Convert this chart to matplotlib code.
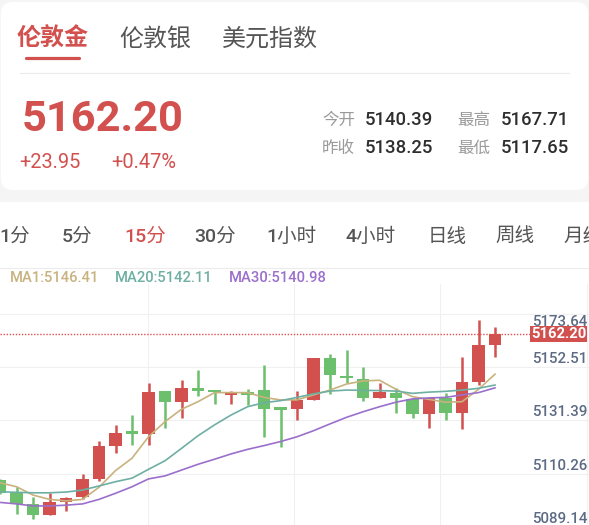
import matplotlib
matplotlib.use('Agg')
import matplotlib.pyplot as plt
from matplotlib.patches import FancyBboxPatch, Rectangle

# ---------------- data ----------------
tabs = ['伦敦金', '伦敦银', '美元指数']
price_text = '5162.20'
change_text = '+23.95'
pct_text = '+0.47%'
stat_labels = ['今开', '最高', '昨收', '最低']
stat_values = ['5140.39', '5167.71', '5138.25', '5117.65']
intervals = ['1分', '5分', '15分', '30分', '1小时', '4小时', '日线', '周线', '月线']
legend_texts = ['MA1:5146.41', 'MA20:5142.11', 'MA30:5140.98']

opens = [5104.47, 5099.44, 5094.97, 5090.61, 5095.88, 5097.62, 5104.87, 5118.06, 5123.37, 5122.70,
         5139.74, 5135.26, 5140.81, 5140.13, 5138.27, 5139.22, 5140.13, 5133.12, 5132.48, 5136.17,
         5152.69, 5145.80, 5144.49, 5137.08, 5139.06, 5136.57, 5130.50, 5137.08, 5130.90, 5143.18,
         5157.96]
closes = [5099.44, 5094.97, 5090.61, 5095.64, 5097.22, 5104.87, 5117.95, 5122.98, 5123.10, 5139.46,
          5135.26, 5140.81, 5139.74, 5139.34, 5139.22, 5138.15, 5132.72, 5132.33, 5136.17, 5152.69,
          5146.07, 5144.77, 5137.08, 5139.22, 5136.84, 5130.50, 5136.84, 5131.14, 5143.18, 5157.96,
          5162.20]
highs = [5105.00, 5101.82, 5097.62, 5099.20, 5097.86, 5106.85, 5120.05, 5126.15, 5130.23, 5143.02,
         5139.90, 5143.98, 5147.94, 5140.20, 5139.74, 5140.65, 5150.04, 5133.20, 5139.85, 5152.93,
         5154.40, 5155.98, 5149.13, 5143.02, 5141.04, 5136.60, 5137.00, 5138.82, 5153.33, 5167.71,
         5165.21]
lows = [5099.00, 5091.00, 5088.90, 5090.61, 5092.31, 5096.83, 5104.20, 5115.29, 5118.34, 5118.34,
        5124.96, 5128.92, 5137.87, 5134.47, 5134.70, 5134.07, 5121.39, 5117.67, 5128.25, 5136.00,
        5138.43, 5142.79, 5135.77, 5137.00, 5130.90, 5128.92, 5124.96, 5128.25, 5124.56, 5142.11,
        5153.09]
ma1 = [5103.4, 5101.8, 5098.5, 5096.8, 5096.2, 5096.8, 5101.6, 5108.2, 5113.1, 5121.6,
       5127.6, 5132.5, 5135.5, 5139.1, 5139.1, 5139.1, 5137.2, 5136.2, 5136.2, 5138.2,
       5140.1, 5142.5, 5143.7, 5144.0, 5140.4, 5137.5, 5136.4, 5135.3, 5135.5, 5140.4,
       5146.41]
ma20 = [5099.8, 5099.6, 5099.4, 5099.4, 5099.7, 5100.5, 5102.1, 5103.8, 5105.2, 5108.7,
        5112.1, 5117.0, 5122.0, 5126.3, 5130.2, 5133.5, 5135.1, 5135.9, 5137.2, 5138.6,
        5139.7, 5140.1, 5140.0, 5139.9, 5139.7, 5138.8, 5139.3, 5139.6, 5140.1, 5140.8,
        5142.11]
ma30 = [5095.6, 5095.0, 5094.2, 5094.2, 5094.5, 5095.0, 5096.8, 5099.2, 5101.8, 5104.9,
        5106.1, 5108.4, 5110.7, 5112.7, 5114.8, 5116.6, 5118.1, 5119.7, 5121.6, 5124.0,
        5126.7, 5129.3, 5131.5, 5133.5, 5135.3, 5136.6, 5137.0, 5137.2, 5138.2, 5139.1,
        5140.98]
y_tick_values = [5173.64, 5152.51, 5131.39, 5110.26, 5089.14]
y_tick_labels = ['5173.64', '5152.51', '5131.39', '5110.26', '5089.14']
last_price = 5162.20

# ---------------- style ----------------
W, H = 589, 525
RED = '#d2504e'
GREEN = '#6cbf6c'
MA_COLORS = ['#c8b27e', '#6eafa3', '#9b6fcc']
GRID = '#f0f0f0'
AXIS_TXT = '#5c6a84'
NUM = ['Roboto', 'Noto Sans CJK SC', 'DejaVu Sans']
CJK = ['Noto Sans CJK SC', 'DejaVu Sans']
PX = 0.72  # px -> pt at dpi 100

fig = plt.figure(figsize=(W / 100, H / 100), dpi=100)
fig.patch.set_facecolor('white')

bg = fig.add_axes([0, 0, 1, 1])
bg.set_xlim(0, W)
bg.set_ylim(H, 0)
bg.axis('off')
bg.set_zorder(0)

# header card
bg.add_patch(Rectangle((0, 0), W, 202, fc='#f5f5f5', ec='none'))
bg.add_patch(FancyBboxPatch((1, 2), 587, 188, boxstyle='round,pad=0,rounding_size=12',
                            fc='white', ec='none'))

tab_x = [17, 119.5, 221.6]
for i, (t, x) in enumerate(zip(tabs, tab_x)):
    bg.text(x, 46, t, fontsize=24 * PX, family=CJK, va='baseline', ha='left',
            color=RED if i == 0 else '#555555', weight='bold' if i == 0 else 'normal')
bg.plot([26, 79], [58.3, 58.3], color=RED, lw=2.3, solid_capstyle='round')
bg.plot([19.5, 569], [73, 73], color='#ebebeb', lw=0.8)

bg.text(21.5, 131, price_text, fontsize=43.5 * PX, family=NUM, weight='bold', color=RED,
        va='baseline', ha='left')
bg.text(19.5, 168, change_text, fontsize=20 * PX, family=NUM, color=RED, va='baseline')
bg.text(111, 168, pct_text, fontsize=20 * PX, family=NUM, color=RED, va='baseline')

lab_x = [322, 457.5, 322, 457.5]
val_x = [364.4, 500.8, 364.4, 500.8]
base_y = [125, 125, 153, 153]
for lab, val, lx, vx, by in zip(stat_labels, stat_values, lab_x, val_x, base_y):
    bg.text(lx, by, lab, fontsize=16.5 * PX, family=CJK, color='#9a9a9a', va='baseline')
    bg.text(vx, by, val, fontsize=18.5 * PX, family=NUM, color='#2e2e2e', va='baseline',
            weight='medium')

int_x = [-1, 62, 124, 194.6, 266.7, 345.6, 428, 495, 563.5]
for i, (t, x) in enumerate(zip(intervals, int_x)):
    bg.text(x, 241.5, t, fontsize=19.5 * PX, family=NUM, va='baseline', weight='medium',
            color=RED if t == '15分' else '#555555')

bg.plot([0, W], [267.7, 267.7], color='#ececec', lw=0.8)
leg_x = [9.4, 114.6, 229]
for t, x, c in zip(legend_texts, leg_x, MA_COLORS):
    bg.text(x, 281.5, t, fontsize=14.8 * PX, family=NUM, color=c, va='baseline',
            weight='medium')

for vx in [147.7, 294.3, 440, 586.7]:
    bg.plot([vx, vx], [284, H], color=GRID, lw=0.8)

# ---------------- chart ----------------
top_px, bot_px = 285, H
ax = fig.add_axes([0, 0, 1, (bot_px - top_px) / H])
ax.set_zorder(1)
ax.patch.set_alpha(0)
ax.axis('off')
step_px = 16.5
ppu = 2.524          # pixels per price unit
anchor_px = 334.3    # pixel row of last price
ax.set_xlim(0, W / step_px)
ax.set_ylim(last_price - (bot_px - anchor_px) / ppu, last_price + (anchor_px - top_px) / ppu)

GRID_OFFSET = -3.28
for v in y_tick_values:
    ax.axhline(v + GRID_OFFSET, color=GRID, lw=0.8, zorder=0)

n = len(opens)
xs = list(range(n))
min_body = 1.0
for i in xs:
    o, c, h, l = opens[i], closes[i], highs[i], lows[i]
    col = RED if c >= o else GREEN
    ax.vlines(i, l, h, color=col, lw=1.8, zorder=2)
    hgt = abs(c - o)
    b = min(o, c)
    if hgt < min_body:
        b -= (min_body - hgt) / 2
        hgt = min_body
    ax.bar(i, hgt, bottom=b, width=0.77, color=col, zorder=3, linewidth=0)

for ma, c in zip([ma1, ma20, ma30], MA_COLORS):
    ax.plot(xs, ma, color=c, lw=1.2, zorder=4)

ax.axhline(last_price, xmin=0, xmax=531.5 / W, color='#e0504c', lw=1.0,
           dashes=(1, 1.2), zorder=5)

for k, (v, lab) in enumerate(zip(y_tick_values, y_tick_labels)):
    gy = v + GRID_OFFSET
    ax.annotate(lab, xy=(1, gy), xycoords=('axes fraction', 'data'),
                xytext=(-2, -1 if k == 0 else 1), textcoords='offset pixels',
                ha='right', va='top' if k == 0 else 'bottom', color=AXIS_TXT,
                fontsize=15 * PX, family=NUM, weight='medium', zorder=6,
                annotation_clip=False)

ax.annotate(price_text, xy=(1, last_price), xycoords=('axes fraction', 'data'),
            xytext=(-3, 0), textcoords='offset pixels', ha='right', va='center',
            color='white', weight='bold', fontsize=14.8 * PX, family=NUM, zorder=7,
            bbox=dict(boxstyle='square,pad=0.08', fc=RED, ec='none'),
            annotation_clip=False)

fig.savefig('out.png', dpi=100, facecolor='white')
